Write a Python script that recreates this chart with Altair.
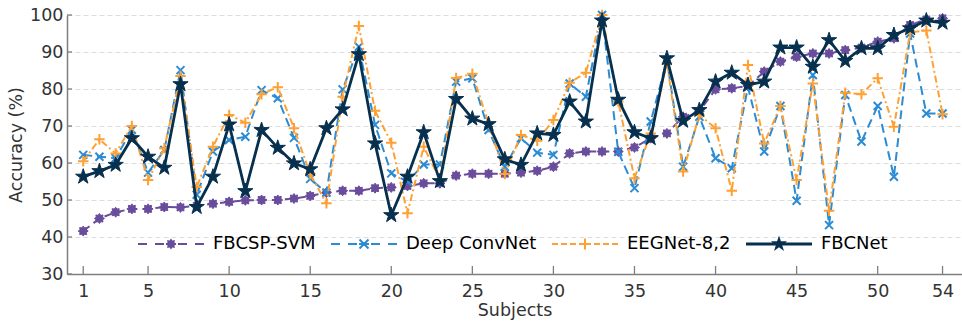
import math
import altair as alt
import pandas as pd

# Per-subject classification accuracy (%) for the four methods
subjects = list(range(1, 55))

fbcsp_svm = [41.6, 45.0, 46.7, 47.6, 47.6, 48.1, 48.0, 48.4, 49.0, 49.5,
             49.9, 50.0, 50.0, 50.4, 51.1, 52.0, 52.5, 52.5, 53.2, 53.4,
             53.8, 54.5, 54.5, 56.6, 57.1, 57.1, 57.1, 57.4, 57.9, 59.0,
             62.6, 63.1, 63.1, 63.1, 64.2, 66.7, 68.0, 72.5, 74.0, 79.9,
             80.2, 80.8, 84.7, 87.4, 88.7, 89.6, 89.6, 90.5, 91.2, 92.8,
             93.7, 97.3, 98.8, 99.1]

deep_convnet = [62.2, 61.7, 61.3, 69.0, 57.4, 63.5, 85.1, 51.4, 63.1, 66.2,
                67.1, 79.7, 77.5, 66.8, 55.7, 52.0, 79.9, 91.4, 70.3, 57.2,
                55.0, 59.6, 59.6, 82.0, 82.9, 68.9, 59.0, 66.7, 62.8, 62.2,
                81.5, 77.9, 100.0, 63.0, 53.2, 71.2, 87.8, 59.0, 72.5, 61.3,
                58.6, 80.5, 63.1, 75.4, 49.8, 83.8, 43.2, 78.4, 65.8, 75.4,
                56.3, 95.0, 73.4, 73.4]

eegnet = [60.5, 66.4, 62.6, 70.0, 55.4, 64.0, 83.5, 53.5, 64.4, 73.0,
          70.9, 78.6, 80.5, 69.4, 57.0, 49.1, 77.9, 97.0, 74.1, 65.5,
          46.4, 64.4, 55.5, 83.0, 84.1, 70.7, 57.0, 67.6, 66.0, 71.6,
          81.7, 84.4, 100.0, 76.6, 55.9, 68.0, 86.9, 57.7, 73.0, 69.4,
          52.5, 86.5, 65.3, 75.4, 55.4, 81.5, 47.1, 79.0, 78.6, 82.9,
          69.8, 95.3, 95.8, 73.2]

fbcnet = [56.3, 57.8, 59.5, 66.7, 61.7, 58.7, 81.3, 48.1, 56.3, 70.4,
          52.4, 68.9, 64.1, 59.9, 58.3, 69.4, 74.5, 89.4, 65.3, 45.9,
          56.3, 68.3, 55.1, 77.3, 72.0, 70.5, 61.0, 59.5, 68.0, 67.6,
          76.6, 71.2, 98.5, 77.1, 68.3, 66.7, 88.3, 71.4, 74.3, 82.0,
          84.4, 81.1, 82.0, 91.2, 91.2, 86.0, 93.2, 87.6, 91.0, 91.0,
          94.6, 96.4, 98.5, 97.9]

methods = ["FBCSP-SVM", "Deep ConvNet", "EEGNet-8,2", "FBCNet"]
x_ticks = [1, 5, 10, 15, 20, 25, 30, 35, 40, 45, 50, 54]
y_ticks = [30, 40, 50, 60, 70, 80, 90, 100]

rows = []
for method, values in zip(methods, [fbcsp_svm, deep_convnet, eegnet, fbcnet]):
    for s, v in zip(subjects, values):
        rows.append({"subject": s, "accuracy": v, "method": method})
df = pd.DataFrame(rows)


# ---- marker glyphs (SVG paths) ----
def poly(points):
    return "M" + "L".join(f"{x:.4f},{y:.4f}" for x, y in points) + "Z"


def star(n, outer, inner):
    pts = []
    for k in range(2 * n):
        r = outer if k % 2 == 0 else inner
        a = -math.pi / 2 + k * math.pi / n
        pts.append((r * math.cos(a), r * math.sin(a)))
    return pts


def bar(x0, y0, x1, y1, t):
    dx, dy = x1 - x0, y1 - y0
    length = math.hypot(dx, dy)
    nx, ny = -dy / length * t, dx / length * t
    return [(x0 - nx, y0 - ny), (x1 - nx, y1 - ny), (x1 + nx, y1 + ny), (x0 + nx, y0 + ny)]


# legend swatch: dashed line segments plus marker, all as filled polygons
SWATCH = 66.0
HALF = SWATCH / 2


def swatch(dashes, thick, marker):
    polys = [bar(a, 0, b, 0, thick / 2) for a, b in dashes] + marker
    return " ".join(poly([(x / HALF, y / HALF) for x, y in p]) for p in polys)


long_dash = [(-33, -24), (-16, -7), (-5, 5), (7, 16), (24, 33)]
short_dash = [(-33, -27), (-24, -18), (-15, -9), (-6, 6), (9, 15), (18, 24), (27, 33)]

styles = {
    "FBCSP-SVM": dict(color="#6a4c9c", width=2, dash=[8, 5],
                      shape=poly(star(8, 1, 0.68)), size=100, filled=True, mstroke=1,
                      legend=swatch(long_dash, 2, [star(8, 5.5, 3.7)])),
    "Deep ConvNet": dict(color="#2b8bd3", width=2, dash=[9, 5],
                         shape="M-1,-1L1,1M-1,1L1,-1", size=64, filled=False, mstroke=2,
                         legend=swatch(long_dash, 2, [bar(-4.5, -4.5, 4.5, 4.5, 1),
                                                      bar(-4.5, 4.5, 4.5, -4.5, 1)])),
    "EEGNet-8,2": dict(color="#ffa033", width=2, dash=[7, 3, 2, 3],
                       shape="M-1,0L1,0M0,-1L0,1", size=110, filled=False, mstroke=2,
                       legend=swatch(short_dash, 2, [bar(-5.5, 0, 5.5, 0, 1),
                                                     bar(0, -5.5, 0, 5.5, 1)])),
    "FBCNet": dict(color="#07304f", width=2.8, dash=None,
                   shape=poly(star(5, 1, 0.382)), size=256, filled=True, mstroke=1,
                   legend=swatch([(-33, 33)], 3, [star(5, 8.5, 8.5 * 0.382)])),
}

AXIS_GRAY = "#7f7f7f"
TEXT = "#333333"
FONT = "DejaVu Sans"

x_scale = alt.Scale(domain=[0, 55.2], nice=False, zero=False)
y_scale = alt.Scale(domain=[30, 100], nice=False, zero=False)

x_axis = alt.Axis(values=x_ticks, title="Subjects", grid=False, ticks=False,
                  domainColor=AXIS_GRAY, domainWidth=1.5,
                  labelFont=FONT, labelFontSize=17.5, labelColor=TEXT, labelPadding=8,
                  labelFlush=False,
                  titleFont=FONT, titleFontSize=17.5, titleFontWeight="normal",
                  titleColor=TEXT, titlePadding=2)
y_axis = alt.Axis(values=y_ticks, title="Accuracy (%)", grid=True, ticks=False,
                  gridColor="#dcdcdc", gridDash=[5, 3], gridWidth=1,
                  domainColor=AXIS_GRAY, domainWidth=1.5,
                  labelFont=FONT, labelFontSize=17.5, labelColor=TEXT, labelPadding=4,
                  labelFlush=False,
                  titleFont=FONT, titleFontSize=17.5, titleFontWeight="normal",
                  titleColor=TEXT, titlePadding=4)

X = alt.X("subject:Q", scale=x_scale, axis=x_axis)
Y = alt.Y("accuracy:Q", scale=y_scale, axis=y_axis)

layers = []

# inward-pointing tick marks on both axes
xtick_df = pd.DataFrame({"subject": x_ticks})
layers.append(
    alt.Chart(xtick_df).mark_tick(orient="vertical", size=8, thickness=1.3,
                                  color=AXIS_GRAY, yOffset=-4, opacity=1)
    .encode(x=X, y=alt.YDatum(30, scale=y_scale, axis=y_axis))
)
ytick_df = pd.DataFrame({"accuracy": y_ticks})
layers.append(
    alt.Chart(ytick_df).mark_tick(orient="horizontal", size=5, thickness=1.3,
                                  color=AXIS_GRAY, xOffset=2.5, opacity=1)
    .encode(y=Y, x=alt.XDatum(0, scale=x_scale, axis=x_axis))
)

for m in methods:
    st = styles[m]
    base = alt.Chart(df).transform_filter(alt.datum.method == m).encode(x=X, y=Y)
    line_kw = dict(color=st["color"], strokeWidth=st["width"])
    if st["dash"]:
        line_kw["strokeDash"] = st["dash"]
    layers.append(base.mark_line(**line_kw))
    pt_kw = dict(shape=st["shape"], size=st["size"], filled=st["filled"],
                 color=st["color"], strokeWidth=st["mstroke"], opacity=1)
    if st["filled"]:
        pt_kw["stroke"] = st["color"]
    layers.append(base.mark_point(**pt_kw))

# legend driven by color + shape scales (no marks drawn for this layer)
legend = alt.Legend(title=None, orient="none", legendX=71, legendY=196,
                    direction="horizontal", columns=4,
                    symbolSize=SWATCH * SWATCH, symbolStrokeWidth=0, symbolOpacity=1,
                    labelFont=FONT, labelFontSize=18, labelColor="black",
                    labelOffset=9, columnPadding=15, rowPadding=0, padding=0)
layers.append(
    alt.Chart(df).transform_filter("false")
    .mark_point(filled=True, opacity=1, size=SWATCH * SWATCH)
    .encode(
        x=X, y=Y,
        color=alt.Color("method:N", legend=legend,
                        scale=alt.Scale(domain=methods,
                                        range=[styles[m]["color"] for m in methods])),
        shape=alt.Shape("method:N", legend=legend,
                        scale=alt.Scale(domain=methods,
                                        range=[styles[m]["legend"] for m in methods])),
    )
)

chart = (
    alt.layer(*layers)
    .properties(width=895, height=259,
                autosize=alt.AutoSizeParams(type="none"),
                padding={"left": 67, "top": 15, "right": 0, "bottom": 49},
                background="white")
    .configure_view(stroke=None)
)

chart.save("out.html", embed_options={"renderer": "svg", "actions": False})
